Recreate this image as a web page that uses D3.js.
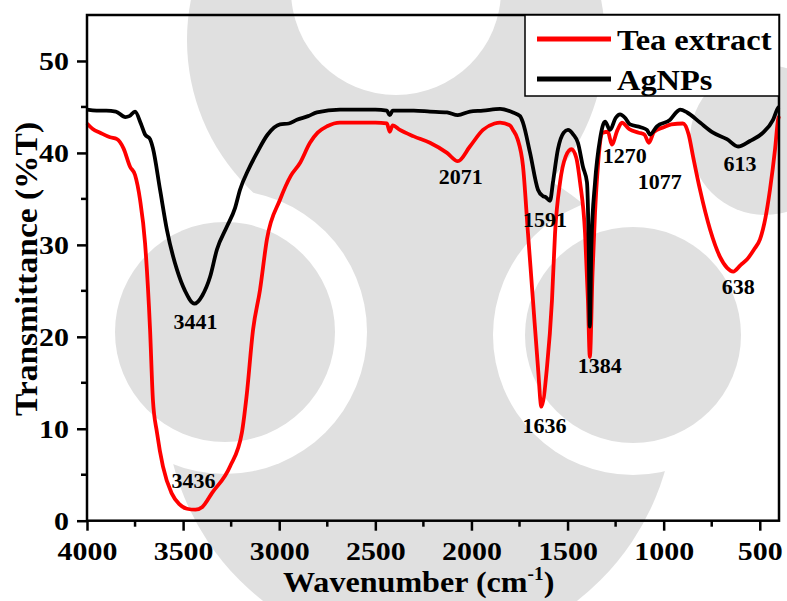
<!DOCTYPE html>
<html>
<head>
<meta charset="utf-8">
<script src="https://cdn.jsdelivr.net/npm/d3@7"></script>
<style>
  body { margin: 0; background: #fff; }
  svg { display: block; }
  text { font-family: "Liberation Serif", "Times New Roman", serif; font-weight: bold; fill: #000; }
</style>
</head>
<body>
<svg id="chart" width="787" height="601"></svg>
<script>
// FTIR spectra: wavenumber (cm^-1) and transmittance (%T)
const teaWavenumber = [4000, 3970, 3932, 3880, 3844, 3810, 3776, 3750, 3724, 3698, 3672, 3657, 3636, 3605, 3560, 3520, 3480, 3436, 3400, 3350, 3256, 3194, 3170, 3136, 3100, 3064, 2996, 2940, 2892, 2840, 2800, 2751, 2684, 2600, 2500, 2440, 2425, 2410, 2372, 2300, 2216, 2127, 2071, 2008, 1940, 1880, 1851, 1800, 1784, 1760, 1732, 1706, 1680, 1654, 1636, 1607, 1581, 1565, 1539, 1510, 1480, 1455, 1435, 1409, 1394, 1384, 1370, 1357, 1342, 1316, 1290, 1270, 1240, 1217, 1180, 1130, 1100, 1077, 1050, 1000, 960, 900, 870, 847, 811, 759, 707, 670, 638, 600, 567, 530, 499, 470, 447, 420, 405, 400];
const teaTransmittance = [43.2, 42.6, 42.2, 41.7, 41.5, 40.5, 38.5, 37.6, 34.9, 30.2, 20.8, 13.1, 9.6, 5.9, 3.0, 1.8, 1.3, 1.2, 1.5, 3.0, 5.9, 9.6, 13.5, 20.8, 25.1, 30.6, 34.9, 37.5, 38.9, 41.1, 42.2, 42.9, 43.3, 43.3, 43.3, 43.2, 42.3, 43.0, 42.5, 41.8, 41.1, 40.0, 39.1, 40.7, 42.5, 43.2, 43.3, 43.0, 42.5, 41.5, 38.6, 31.3, 24.0, 16.7, 12.4, 16.7, 24.0, 31.3, 36.8, 39.6, 40.4, 39.5, 36.8, 31.3, 24.0, 17.8, 27.0, 33.5, 38.6, 42.2, 42.3, 40.9, 42.5, 43.3, 42.6, 42.2, 42.0, 41.1, 42.3, 42.8, 43.1, 43.2, 42.0, 39.6, 36.0, 31.7, 28.7, 27.5, 27.1, 27.8, 28.4, 29.5, 30.6, 33.0, 36.0, 40.5, 43.6, 44.0];

const agWavenumber = [4000, 3950, 3900, 3850, 3800, 3780, 3750, 3720, 3698, 3672, 3657, 3620, 3584, 3532, 3490, 3441, 3400, 3360, 3324, 3272, 3230, 3204, 3160, 3116, 3060, 2996, 2950, 2908, 2850, 2804, 2684, 2500, 2440, 2425, 2410, 2300, 2216, 2127, 2071, 2008, 1940, 1851, 1784, 1747, 1732, 1695, 1654, 1628, 1615, 1591, 1576, 1550, 1520, 1498, 1470, 1446, 1420, 1399, 1390, 1384, 1376, 1357, 1331, 1305, 1279, 1250, 1227, 1200, 1175, 1120, 1087, 1071, 1035, 967, 930, 915, 878, 811, 743, 671, 613, 551, 483, 431, 405, 400];
const agTransmittance = [44.7, 44.6, 44.6, 44.5, 43.9, 44.0, 44.5, 43.2, 42.0, 41.5, 40.5, 36.0, 31.6, 27.3, 25.0, 23.6, 24.5, 26.5, 29.5, 32.0, 34.0, 36.0, 38.2, 40.0, 42.0, 43.1, 43.2, 43.6, 44.0, 44.4, 44.7, 44.7, 44.6, 44.1, 44.6, 44.6, 44.5, 44.4, 44.1, 44.5, 44.6, 44.8, 44.4, 44.0, 43.3, 40.0, 36.0, 35.3, 35.2, 34.8, 36.8, 40.4, 42.2, 42.5, 42.0, 41.1, 38.5, 36.8, 30.0, 21.1, 30.0, 36.8, 41.5, 43.4, 42.5, 43.8, 44.2, 43.8, 43.1, 42.8, 42.5, 42.0, 42.9, 43.6, 44.5, 44.7, 44.4, 43.3, 42.2, 41.5, 40.7, 41.3, 42.2, 43.6, 44.9, 45.0];

const seriesNames = ["Tea extract", "AgNPs"];
const seriesColors = ["#ff0000", "#000000"];

const xTicks = [4000, 3500, 3000, 2500, 2000, 1500, 1000, 500];
const xMinorTicks = [3750, 3250, 2750, 2250, 1750, 1250, 750];
const yTicks = [0, 10, 20, 30, 40, 50];
const yMinorTicks = [5, 15, 25, 35, 45];

// Peak annotations: label, wavenumber, transmittance at the band
const peakText = ["3441", "3436", "2071", "1591", "1636", "1384", "1270", "1077", "613", "638"];
const peakWavenumber = [3441, 3436, 2071, 1591, 1636, 1384, 1270, 1077, 613, 638];
const peakTransmittance = [23.6, 1.2, 39.1, 34.8, 12.4, 17.8, 40.9, 41.1, 40.7, 27.1];

// label offsets from the band position (px)
const peakOffset = [[1, 25], [-2, -22], [3, 23], [-5, 26], [3, 26], [10, 16], [13, 18], [11, 46], [2, 25], [5, 22]];

const svg = d3.select("#chart");
const W = 787, H = 601;
const mLeft = 87, mRight = 779, mTop = 15, mBottom = 520.7;

const x = d3.scaleLinear().domain([4000, 400]).range([mLeft, mRight]);
const y = d3.scaleLinear().domain([0, 55]).range([mBottom, mTop]);

// stretch text horizontally by a factor
function widen(sel, k) {
  sel.each(function () {
    const w = this.getComputedTextLength();
    d3.select(this).attr("textLength", w * k).attr("lengthAdjust", "spacingAndGlyphs");
  });
}

// faint grey emblem behind the plot
const bg = svg.append("g").attr("class", "emblem");
const grey = "#e0e0e0";
const disc = (cx, cy, r, fill) => bg.append("circle").attr("cx", cx).attr("cy", cy).attr("r", r).attr("fill", fill);
bg.append("rect").attr("width", W).attr("height", H).attr("fill", "#fff");
disc(396, 40, 209, grey);
disc(420, 400, 255, grey);
disc(765, 140, 75, grey);
disc(396, -10, 105, "#fff");
disc(225, 332, 142, "#fff");
disc(225, 332, 110, grey);
disc(633, 335, 140, "#fff");
disc(633, 335, 108, grey);

// axes
const xAxis = d3.axisBottom(x).tickValues(xTicks).tickSize(10).tickPadding(11).tickFormat(d3.format("d"));
const gx = svg.append("g").attr("transform", `translate(0,${mBottom})`).call(xAxis);
const yAxis = d3.axisLeft(y).tickValues(yTicks).tickSize(10).tickPadding(8).tickFormat(d3.format("d"));
const gy = svg.append("g").attr("transform", `translate(${mLeft},0)`).call(yAxis);

[gx, gy].forEach(g => {
  g.select(".domain").remove();
  g.selectAll(".tick line").attr("stroke", "#000").attr("stroke-width", 2.5);
  g.selectAll(".tick text").style("font-size", "26px").attr("fill", "#000");
});
widen(gx.selectAll(".tick text"), 1.15);
widen(gy.selectAll(".tick text"), 1.15);

svg.append("g").selectAll("line").data(xMinorTicks).join("line")
  .attr("x1", d => x(d)).attr("x2", d => x(d))
  .attr("y1", mBottom).attr("y2", mBottom + 6)
  .attr("stroke", "#000").attr("stroke-width", 2.5);
svg.append("g").selectAll("line").data(yMinorTicks).join("line")
  .attr("x1", mLeft).attr("x2", mLeft - 6)
  .attr("y1", d => y(d)).attr("y2", d => y(d))
  .attr("stroke", "#000").attr("stroke-width", 2.5);

// spectra
const line = d3.line().x(d => x(d[0])).y(d => y(d[1])).curve(d3.curveMonotoneX);
const teaPts = teaWavenumber.map((w, i) => [w, teaTransmittance[i]]);
const agPts = agWavenumber.map((w, i) => [w, agTransmittance[i]]);

const plot = svg.append("g");
plot.append("path").datum(teaPts).attr("d", line)
  .attr("fill", "none").attr("stroke", seriesColors[0]).attr("stroke-width", 3.8).attr("stroke-linejoin", "round");
plot.append("path").datum(agPts).attr("d", line)
  .attr("fill", "none").attr("stroke", seriesColors[1]).attr("stroke-width", 3.8).attr("stroke-linejoin", "round");

// frame
svg.append("rect").attr("x", mLeft).attr("y", mTop).attr("width", mRight - mLeft).attr("height", mBottom - mTop)
  .attr("fill", "none").attr("stroke", "#000").attr("stroke-width", 2.5);

// peak labels
const labels = svg.append("g").selectAll("text").data(peakText).join("text")
  .attr("x", (d, i) => x(peakWavenumber[i]) + peakOffset[i][0])
  .attr("y", (d, i) => y(peakTransmittance[i]) + peakOffset[i][1])
  .attr("text-anchor", "middle")
  .style("font-size", "20px")
  .text(d => d);
widen(labels, 1.1);

// legend
const lg = svg.append("g");
lg.append("rect").attr("x", 525).attr("y", mTop).attr("width", mRight - 525).attr("height", 81)
  .attr("fill", "#fff").attr("stroke", "#000").attr("stroke-width", 1.5);
seriesNames.forEach((name, i) => {
  const ly = 39 + i * 40;
  lg.append("line").attr("x1", 537).attr("x2", 611).attr("y1", ly).attr("y2", ly)
    .attr("stroke", seriesColors[i]).attr("stroke-width", 5);
  const t = lg.append("text").attr("x", 617).attr("y", ly + 11).style("font-size", "30px").text(name);
  widen(t, 1.08);
});

// axis titles
const xt = svg.append("text").attr("x", 283).attr("y", 592).style("font-size", "30px");
xt.append("tspan").text("Wavenumber (cm");
xt.append("tspan").attr("dy", -12).style("font-size", "18px").text("-1");
xt.append("tspan").attr("dy", 12).text(")");
widen(xt, 1.07);

const yt = svg.append("text")
  .attr("transform", `translate(37,${(120 + 418) / 2}) rotate(-90)`)
  .attr("text-anchor", "middle")
  .style("font-size", "31px")
  .text("Transmittance (%T)");
widen(yt, 1.08);
</script>
</body>
</html>
